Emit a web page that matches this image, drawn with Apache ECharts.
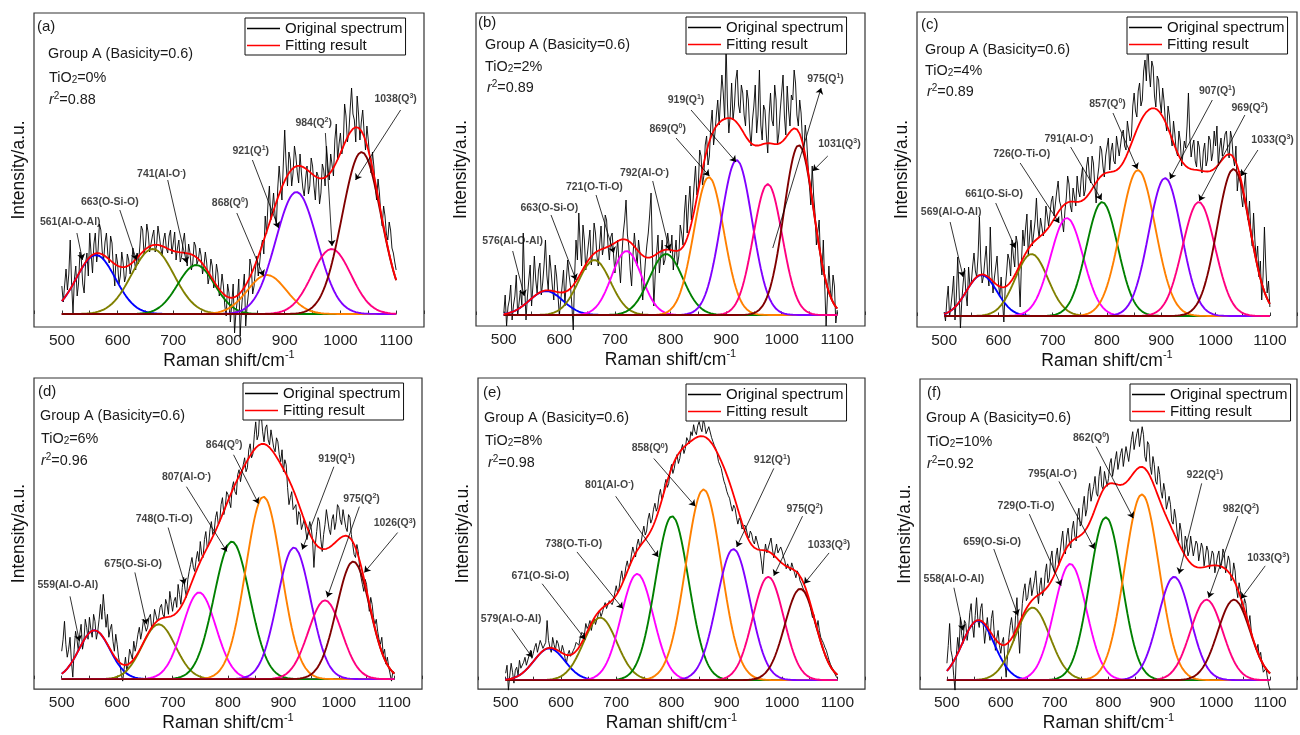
<!DOCTYPE html>
<html>
<head>
<meta charset="utf-8">
<script src="https://cdn.jsdelivr.net/npm/echarts@6/dist/echarts.min.js"></script>
<style>
  html, body { margin: 0; padding: 0; background: #ffffff; }
  #chart { width: 1300px; height: 735px; }
</style>
</head>
<body>
<div id="chart"></div>
<script>
// ---------------------------------------------------------------------------
// Raman spectra of Group A slags (basicity 0.6) at six TiO2 contents,
// with Gaussian deconvolution of the 500-1100 cm-1 region.
// ---------------------------------------------------------------------------

// Sampling positions of the measured spectra (cm-1)
const ramanShift = [
  500, 502.5, 505, 507.5, 510, 512.5, 515, 517.5, 520, 522.5, 525, 527.5, 530, 532.5, 535, 537.5, 540, 542.5, 545, 547.5,
  550, 552.5, 555, 557.5, 560, 562.5, 565, 567.5, 570, 572.5, 575, 577.5, 580, 582.5, 585, 587.5, 590, 592.5, 595, 597.5,
  600, 602.5, 605, 607.5, 610, 612.5, 615, 617.5, 620, 622.5, 625, 627.5, 630, 632.5, 635, 637.5, 640, 642.5, 645, 647.5,
  650, 652.5, 655, 657.5, 660, 662.5, 665, 667.5, 670, 672.5, 675, 677.5, 680, 682.5, 685, 687.5, 690, 692.5, 695, 697.5,
  700, 702.5, 705, 707.5, 710, 712.5, 715, 717.5, 720, 722.5, 725, 727.5, 730, 732.5, 735, 737.5, 740, 742.5, 745, 747.5,
  750, 752.5, 755, 757.5, 760, 762.5, 765, 767.5, 770, 772.5, 775, 777.5, 780, 782.5, 785, 787.5, 790, 792.5, 795, 797.5,
  800, 802.5, 805, 807.5, 810, 812.5, 815, 817.5, 820, 822.5, 825, 827.5, 830, 832.5, 835, 837.5, 840, 842.5, 845, 847.5,
  850, 852.5, 855, 857.5, 860, 862.5, 865, 867.5, 870, 872.5, 875, 877.5, 880, 882.5, 885, 887.5, 890, 892.5, 895, 897.5,
  900, 902.5, 905, 907.5, 910, 912.5, 915, 917.5, 920, 922.5, 925, 927.5, 930, 932.5, 935, 937.5, 940, 942.5, 945, 947.5,
  950, 952.5, 955, 957.5, 960, 962.5, 965, 967.5, 970, 972.5, 975, 977.5, 980, 982.5, 985, 987.5, 990, 992.5, 995, 997.5,
  1000, 1002.5, 1005, 1007.5, 1010, 1012.5, 1015, 1017.5, 1020, 1022.5, 1025, 1027.5, 1030, 1032.5, 1035, 1037.5, 1040, 1042.5, 1045, 1047.5,
  1050, 1052.5, 1055, 1057.5, 1060, 1062.5, 1065, 1067.5, 1070, 1072.5, 1075, 1077.5, 1080, 1082.5, 1085, 1087.5, 1090, 1092.5, 1095, 1097.5,
  1100
];

// Measured intensities (a.u., baseline = 0)
const spectrumA = [
  28, 12, 29, 45, 24, 40, 74, 30, 1, 35, 48, 18, 31, 62, 54, 30, 21, 50, 61, 38,
  81, 60, 41, 70, 81, 52, 64, 90, 84, 62, 54, 72, 81, 60, 51, 78, 71, 45, 28, 60,
  51, 30, 38, 62, 51, 32, 38, 60, 54, 40, 48, 66, 54, 44, 61, 50, 68, 88, 84, 60,
  68, 90, 81, 62, 61, 78, 84, 62, 68, 88, 78, 66, 58, 74, 81, 66, 61, 78, 84, 60,
  71, 82, 54, 66, 74, 52, 58, 72, 81, 62, 48, 70, 61, 44, 51, 72, 68, 50, 54, 66,
  58, 40, 48, 62, 51, 30, 38, 55, 48, 26, 31, 50, 41, 18, 24, 40, 28, 8, -2, 30,
  21, -8, 11, 30, -19, 2, 14, 35, -22, 5, 24, 40, -12, 8, 21, 55, 48, 20, 28, 45,
  58, 38, 51, 66, 74, 60, 98, 80, 111, 128, 94, 104, 121, 100, 88, 126, 148, 130, 114, 150,
  184, 150, 128, 162, 154, 128, 141, 168, 158, 142, 131, 160, 141, 126, 118, 135, 148, 120, 128, 156,
  148, 128, 114, 142, 138, 110, 121, 150, 144, 128, 168, 148, 134, 160, 158, 138, 174, 190, 154, 170,
  181, 160, 168, 210, 198, 172, 181, 205, 226, 200, 194, 172, 218, 200, 174, 192, 204, 182, 164, 188,
  174, 156, 141, 162, 148, 126, 114, 135, 121, 100, 88, 108, 98, 80, 74, 92, 84, 66, 61, 52,
  44
];
const spectrumB = [
  2, 20, -11, 8, 15, 30, -5, 10, 19, 40, -1, 12, 25, 10, 82, 30, -5, 18, 35, 50,
  9, 30, 59, 35, 22, 45, 52, 20, 32, 50, 75, 40, 25, 60, 45, 28, 15, 50, 39, 20,
  -1, 15, 29, 45, 9, 35, 55, 40, 29, 10, -15, 40, 75, 55, 102, 70, 49, 90, 75, 45,
  59, 72, 85, 50, 62, 92, 82, 60, 49, 70, 89, 60, 69, 100, 95, 70, 55, 78, 82, 60,
  42, 60, 75, 50, 32, 60, 82, 95, 115, 80, 69, 45, 29, 60, 82, 65, 49, 75, 62, 40,
  15, 35, 55, 70, 82, 100, 122, 60, 9, 40, 62, 80, 42, 58, 75, 50, 55, 68, 82, 70,
  62, 80, 45, 60, 75, 50, 59, 90, 82, 70, 102, 120, 82, 110, 129, 95, 109, 130, 149, 120,
  129, 165, 159, 130, 139, 170, 179, 150, 159, 190, 205, 170, 182, 200, 215, 190, 189, 240, 222, 195,
  272, 210, 182, 200, 232, 195, 209, 235, 245, 210, 202, 230, 222, 200, 189, 225, 215, 185, 169, 195,
  209, 230, 182, 200, 245, 190, 175, 210, 205, 180, 162, 200, 222, 195, 189, 230, 215, 170, 182, 205,
  222, 240, 199, 180, 229, 205, 189, 220, 215, 245, 232, 200, 189, 215, 202, 175, 165, 190, 175, 150,
  129, 110, 149, 120, 102, 70, 82, 95, 55, 40, 75, 30, -11, 20, 49, 25, 15, 40, 29, -8,
  5
];
const spectrumC = [
  4, -5, 16, 30, -1, 10, 23, 40, -4, 20, 59, 25, -12, 15, 33, 48, 23, 10, 49, 30,
  33, 50, 63, 45, 39, 60, 99, 55, 33, 40, 56, 70, 43, 30, 89, 45, 23, 38, 49, 60,
  33, 20, 39, 15, -6, 28, 43, 62, 56, 40, 76, 60, 49, 80, 73, 40, 9, 55, 86, 70,
  88, 102, 60, 80, 96, 70, 72, 95, 118, 90, 78, 98, 100, 80, 86, 110, 112, 90, 92, 115,
  120, 100, 98, 125, 135, 115, 110, 95, 84, 105, 118, 140, 132, 110, 104, 128, 126, 110, 140, 125,
  119, 138, 149, 120, 126, 150, 159, 140, 133, 160, 153, 130, 113, 138, 149, 170, 166, 150, 139, 160,
  160, 178, 146, 165, 173, 155, 152, 180, 178, 160, 158, 182, 186, 170, 166, 195, 196, 175, 180, 210,
  223, 205, 199, 225, 233, 210, 216, 245, 256, 235, 276, 245, 229, 255, 249, 220, 209, 240, 236, 215,
  203, 228, 215, 195, 185, 210, 200, 180, 170, 195, 182, 165, 160, 185, 175, 150, 150, 175, 168, 190,
  223, 180, 159, 170, 176, 155, 149, 175, 169, 150, 143, 165, 173, 150, 156, 180, 176, 155, 163, 185,
  170, 190, 150, 168, 178, 160, 160, 182, 185, 165, 158, 185, 178, 158, 150, 170, 125, 140, 145, 120,
  109, 128, 143, 110, 96, 115, 83, 70, 103, 75, 56, 70, 39, 55, 16, 40, 89, 50, 23, 35,
  9
];
const spectrumD = [
  28, 40, 58, 35, 22, 30, 42, 18, 2, 30, 48, 40, 28, 45, 55, 30, 38, 60, 52, 40,
  62, 50, 42, 65, 58, 40, 48, 60, 75, 60, 85, 68, 52, 65, 42, 50, 55, 38, 28, 45,
  35, 22, 15, 5, -2, 10, 22, 8, 15, 30, 28, 20, 38, 28, 35, 45, 52, 40, 48, 60,
  58, 48, 52, 62, 65, 50, 55, 70, 68, 58, 62, 72, 75, 65, 62, 80, 75, 65, 88, 78,
  68, 78, 82, 72, 95, 85, 75, 92, 102, 90, 82, 100, 108, 115, 122, 112, 108, 120, 128, 118,
  138, 125, 122, 140, 148, 132, 135, 150, 158, 145, 148, 162, 168, 155, 158, 175, 182, 165, 172, 188,
  185, 178, 172, 192, 198, 188, 185, 205, 210, 198, 200, 215, 222, 208, 212, 230, 236, 222, 226, 245,
  258, 240, 245, 272, 265, 248, 238, 252, 255, 240, 235, 250, 248, 232, 228, 242, 238, 225, 218, 230,
  208, 220, 215, 192, 175, 182, 188, 170, 168, 175, 155, 168, 165, 150, 148, 160, 158, 140, 142, 158,
  152, 140, 112, 135, 148, 162, 158, 140, 128, 145, 155, 170, 168, 150, 145, 160, 165, 150, 158, 175,
  172, 160, 155, 170, 168, 152, 148, 165, 162, 145, 135, 125, 122, 135, 128, 112, 102, 95, 88, 100,
  95, 80, 68, 82, 75, 62, 55, 60, 48, 40, 35, 42, 25, 30, 15, 22, 12, 5, -2, 8,
  5
];
const spectrumE = [
  7, 15, -10, 5, 17, 8, -3, 10, 13, 5, 20, 12, 10, 18, 23, 15, 17, 25, 30, 22,
  27, 33, 37, 28, 30, 40, 40, 32, 30, 38, 60, 40, 33, 28, 43, 36, 30, 40, 37, 30,
  27, 35, 30, 22, 17, 26, 30, 24, 23, 30, 33, 38, 40, 35, 43, 48, 50, 46, 57, 52,
  55, 60, 50, 57, 62, 56, 58, 66, 70, 64, 68, 74, 78, 72, 72, 80, 82, 76, 80, 88,
  95, 88, 92, 102, 110, 100, 104, 114, 120, 112, 116, 126, 134, 128, 124, 136, 142, 134, 138, 148,
  155, 146, 150, 162, 168, 158, 162, 172, 178, 170, 174, 186, 192, 182, 185, 196, 202, 194, 198, 210,
  217, 208, 213, 222, 227, 218, 223, 232, 237, 228, 233, 244, 243, 238, 250, 246, 257, 250, 247, 256,
  260, 254, 250, 262, 257, 248, 247, 255, 253, 244, 240, 236, 233, 228, 220, 222, 213, 206, 200, 196,
  190, 186, 183, 176, 170, 176, 173, 164, 157, 163, 160, 152, 150, 156, 153, 146, 143, 150, 147, 140,
  137, 145, 143, 134, 130, 120, 107, 125, 137, 128, 130, 138, 143, 132, 123, 130, 137, 128, 127, 134,
  130, 124, 120, 112, 117, 113, 110, 118, 117, 108, 103, 110, 107, 100, 97, 93, 90, 92, 87, 82,
  77, 70, 63, 66, 57, 52, 60, 50, 43, 40, 37, 33, 30, 25, 20, 16, 13, 10, 7, 4,
  2
];
const spectrumF = [
  17, 35, 57, 30, 23, 5, -10, 25, 43, 30, 63, 45, 37, 60, 57, 40, 50, 68, 77, 55,
  43, 65, 83, 60, 53, 72, 77, 55, 37, 50, 63, 48, 40, 62, 70, 50, 30, 42, 50, 35,
  27, 38, 43, 20, 3, 25, 43, 55, 63, 50, 40, 65, 83, 50, 27, 55, 77, 90, 97, 80,
  83, 95, 103, 85, 87, 100, 110, 90, 77, 95, 103, 85, 90, 108, 117, 98, 103, 122, 130, 112,
  108, 125, 133, 115, 113, 140, 150, 130, 127, 145, 153, 138, 133, 152, 160, 145, 140, 165, 173, 155,
  158, 175, 185, 165, 172, 190, 198, 180, 178, 195, 205, 188, 185, 205, 215, 195, 192, 210, 212, 195,
  203, 218, 223, 205, 203, 222, 230, 212, 210, 228, 233, 215, 217, 235, 237, 220, 220, 242, 250, 232,
  230, 248, 253, 235, 233, 255, 247, 225, 220, 240, 237, 215, 207, 225, 217, 200, 197, 215, 207, 190,
  183, 198, 190, 172, 170, 185, 177, 160, 157, 172, 163, 148, 140, 158, 150, 132, 127, 145, 140, 125,
  130, 145, 143, 125, 123, 140, 137, 120, 120, 138, 133, 115, 117, 135, 130, 112, 113, 130, 127, 108,
  110, 125, 130, 112, 117, 132, 127, 108, 110, 125, 120, 100, 103, 118, 110, 92, 83, 98, 90, 75,
  70, 82, 77, 62, 57, 65, 50, 42, 43, 35, 30, 36, 23, 28, 17, 8, 10, 12, 3, -5,
  -10
];

// Gaussian components: band centre (cm-1), peak height (a.u.), standard deviation (cm-1), assignment
const peakCentersA = [561, 663, 741, 868, 921, 984, 1038];
const peakHeightsA = [59, 65, 49, 39, 122, 65, 162];
const peakSigmasA  = [35, 38, 33, 35, 37, 35, 35];
const peakBondsA   = ['Al-O-Al', 'O-Si-O', 'Al-O{s|-}', 'Q{s|0}', 'Q{s|1}', 'Q{s|2}', 'Q{s|3}'];

const peakCentersB = [576, 663, 721, 792, 869, 919, 975, 1031];
const peakHeightsB = [24, 55, 64, 61, 138, 155, 131, 170];
const peakSigmasB  = [30, 29, 27, 30, 27, 28, 26, 27];
const peakBondsB   = ['Al-O-Al', 'O-Si-O', 'O-Ti-O', 'Al-O{s|-}', 'Q{s|0}', 'Q{s|1}', 'Q{s|1}', 'Q{s|3}'];

const peakCentersC = [569, 661, 726, 791, 857, 907, 969, 1033];
const peakHeightsC = [41, 62, 98, 114, 146, 138, 114, 147];
const peakSigmasC  = [28, 30, 30, 29, 32, 30, 30, 30];
const peakBondsC   = ['Al-O-Al', 'O-Si-O', 'O-Ti-O', 'Al-O{s|-}', 'Q{s|0}', 'Q{s|1}', 'Q{s|2}', 'Q{s|3}'];

const peakCentersD = [559, 675, 748, 807, 864, 919, 975, 1026];
const peakHeightsD = [49, 55, 87, 138, 183, 132, 79, 118];
const peakSigmasD  = [28, 30, 30, 32, 32, 30, 30, 30];
const peakBondsD   = ['Al-O-Al', 'O-Si-O', 'O-Ti-O', 'Al-O{s|-}', 'Q{s|0}', 'Q{s|1}', 'Q{s|2}', 'Q{s|3}'];

const peakCentersE = [579, 671, 738, 801, 858, 912, 975, 1033];
const peakHeightsE = [32, 63, 107, 165, 192, 132, 104, 92];
const peakSigmasE  = [28, 30, 29, 30, 32, 30, 28, 28];
const peakBondsE   = ['Al-O-Al', 'O-Si-O', 'O-Ti-O', 'Al-O{s|-}', 'Q{s|0}', 'Q{s|1}', 'Q{s|2}', 'Q{s|3}'];

const peakCentersF = [558, 659, 729, 795, 862, 922, 982, 1033];
const peakHeightsF = [60, 73, 117, 164, 187, 104, 81, 81];
const peakSigmasF  = [30, 32, 30, 30, 32, 30, 30, 30];
const peakBondsF   = ['Al-O-Al', 'O-Si-O', 'O-Ti-O', 'Al-O{s|-}', 'Q{s|0}', 'Q{s|1}', 'Q{s|2}', 'Q{s|3}'];

// Sample descriptors
const panelTags = ['(a)', '(b)', '(c)', '(d)', '(e)', '(f)'];
const tio2Levels = ['0%', '2%', '4%', '6%', '8%', '10%'];
const rSquared = ['0.88', '0.89', '0.89', '0.96', '0.98', '0.92'];
const xTickLabels = [500, 600, 700, 800, 900, 1000, 1100];

// ---------------------------------------------------------------------------
// Layout and styling
// ---------------------------------------------------------------------------
const FONT = "'Liberation Sans', Arial, Helvetica, sans-serif";
const palette8 = ['#0000FF', '#808000', '#FF00FF', '#008000', '#FF8000', '#8000FF', '#FF0080', '#800000'];
const palette7 = ['#0000FF', '#808000', '#008000', '#FF8000', '#8000FF', '#FF0080', '#800000'];

const panelLayout = [
  { left: 34,  top: 13,  width: 390, height: 314, yMin: -13, yMax: 301, legend: [245, 17],  tag: [37, 27],  group: [48, 54],  tio2: [49, 78],  r2: [49, 100] },
  { left: 476, top: 13,  width: 389, height: 313, yMin: -11, yMax: 302, legend: [686, 16],  tag: [478, 23], group: [485, 45], tio2: [485, 67], r2: [487, 88] },
  { left: 917, top: 12,  width: 389, height: 315, yMin: -11, yMax: 304, legend: [1127, 16], tag: [921, 25], group: [925, 50], tio2: [925, 71], r2: [927, 92] },
  { left: 34,  top: 378, width: 388, height: 312, yMin: -10, yMax: 302, legend: [243, 382], tag: [38, 392], group: [40, 416], tio2: [41, 439], r2: [41, 461] },
  { left: 478, top: 378, width: 387, height: 313, yMin: -9,  yMax: 304, legend: [686, 383], tag: [483, 393], group: [484, 418], tio2: [485, 441], r2: [488, 463] },
  { left: 920, top: 379, width: 386, height: 312, yMin: -9,  yMax: 303, legend: [1130, 383], tag: [927, 393], group: [926, 418], tio2: [927, 442], r2: [927, 464] }
];

// Callout placement: label anchor [shift, intensity] and arrow [x1, y1, x2, y2] in axis units
const calloutSpots = [
  [[515, 92], [586, 112], [679, 140], [802, 111], [839, 163], [952, 191], [1099, 215]],
  [[516, 74], [582, 107], [663, 128], [753, 142], [795, 186], [828, 215], [1079, 236], [1104, 171]],
  [[513, 104], [592, 122], [643, 162], [730, 177], [801, 212], [1003, 225], [1063, 208], [1105, 176]],
  [[511, 94], [629, 115], [685, 160], [725, 203], [793, 235], [996, 221], [1041, 181], [1101, 156]],
  [[510, 61], [563, 105], [623, 137], [688, 196], [761, 233], [982, 221], [1041, 172], [1085, 136]],
  [[513, 102], [584, 139], [647, 175], [696, 207], [768, 244], [979, 206], [1046, 172], [1097, 123]]
];
const calloutArrows = [
  [[527, 81, 537, 54], [604, 104, 634, 54], [690, 134, 724, 51], [814, 101, 862, 38], [842, 154, 889, 86], [973, 181, 985, 68], [1108, 204, 1027, 134]],
  [[516, 64, 537, 19], [585, 100, 630, 35], [666, 120, 698, 62], [768, 134, 798, 65], [810, 177, 870, 139], [837, 205, 918, 153], [984, 67, 1071, 227], [1083, 159, 1056, 144]],
  [[511, 94, 535, 39], [595, 113, 631, 68], [640, 153, 712, 93], [733, 169, 790, 116], [811, 203, 856, 147], [994, 216, 916, 137], [1054, 201, 970, 115], [1078, 166, 1047, 140]],
  [[515, 83, 532, 38], [632, 107, 653, 55], [692, 152, 722, 95], [725, 193, 798, 128], [810, 225, 855, 176], [991, 213, 934, 130], [1037, 173, 979, 82], [1106, 147, 1046, 107]],
  [[511, 52, 548, 23], [566, 97, 644, 41], [629, 129, 712, 72], [699, 185, 776, 124], [768, 223, 843, 175], [985, 213, 918, 134], [1037, 165, 985, 105], [1085, 128, 1040, 97]],
  [[513, 93, 530, 50], [587, 132, 632, 65], [653, 167, 712, 95], [708, 200, 774, 132], [777, 235, 846, 163], [973, 198, 931, 107], [1040, 165, 986, 83], [1091, 115, 1046, 82]]
];

const panels = [
  { spectrum: spectrumA, centers: peakCentersA, heights: peakHeightsA, sigmas: peakSigmasA, bonds: peakBondsA, colors: palette7 },
  { spectrum: spectrumB, centers: peakCentersB, heights: peakHeightsB, sigmas: peakSigmasB, bonds: peakBondsB, colors: palette8 },
  { spectrum: spectrumC, centers: peakCentersC, heights: peakHeightsC, sigmas: peakSigmasC, bonds: peakBondsC, colors: palette8 },
  { spectrum: spectrumD, centers: peakCentersD, heights: peakHeightsD, sigmas: peakSigmasD, bonds: peakBondsD, colors: palette8 },
  { spectrum: spectrumE, centers: peakCentersE, heights: peakHeightsE, sigmas: peakSigmasE, bonds: peakBondsE, colors: palette8 },
  { spectrum: spectrumF, centers: peakCentersF, heights: peakHeightsF, sigmas: peakSigmasF, bonds: peakBondsF, colors: palette8 }
];

// Gaussian band profile
const gaussian = (x, c, h, s) => h * Math.exp(-((x - c) * (x - c)) / (2 * s * s));

const grids = [], xAxes = [], yAxes = [], series = [], legends = [], graphics = [];

panels.forEach((p, i) => {
  const L = panelLayout[i];

  grids.push({
    left: L.left, top: L.top, width: L.width, height: L.height,
    show: true, borderColor: '#333333', borderWidth: 1.2, backgroundColor: 'transparent'
  });

  xAxes.push({
    type: 'value', gridIndex: i, min: 450, max: 1150, interval: 50,
    name: 'Raman shift/cm{sup|-1}', nameLocation: 'middle', nameGap: 21,
    nameTextStyle: {
      fontFamily: FONT, fontSize: 17.5, color: '#111', lineHeight: 22,
      rich: { sup: { fontFamily: FONT, fontSize: 11, color: '#111', verticalAlign: 'top', lineHeight: 11 } }
    },
    axisLine: { show: false },
    axisTick: { show: true, inside: true, length: 3.5, lineStyle: { color: '#333', width: 1 } },
    splitLine: { show: false },
    axisLabel: {
      formatter: v => (xTickLabels.indexOf(v) >= 0 ? String(v) : ''),
      fontFamily: FONT, fontSize: 15.5, color: '#222', margin: 6
    }
  });

  yAxes.push({
    type: 'value', gridIndex: i, min: L.yMin, max: L.yMax,
    name: 'Intensity/a.u.', nameLocation: 'middle', nameGap: 6, nameRotate: 90,
    nameTextStyle: { fontFamily: FONT, fontSize: 17.5, color: '#111' },
    axisLine: { show: false }, axisTick: { show: false }, axisLabel: { show: false }, splitLine: { show: false }
  });

  // measured spectrum
  series.push({
    name: 'Original spectrum', type: 'line', xAxisIndex: i, yAxisIndex: i,
    data: ramanShift.map((x, k) => [x, p.spectrum[k]]),
    showSymbol: false, symbol: 'none', clip: false, silent: true,
    lineStyle: { color: '#000', width: 0.9 }, itemStyle: { color: '#000' }, z: 2
  });

  // individual Gaussian bands
  p.centers.forEach((c, j) => {
    series.push({
      name: c + '(' + p.bonds[j] + ')', type: 'line', xAxisIndex: i, yAxisIndex: i,
      data: ramanShift.map(x => [x, gaussian(x, c, p.heights[j], p.sigmas[j])]),
      showSymbol: false, symbol: 'none', silent: true,
      lineStyle: { color: p.colors[j], width: 1.9 }, itemStyle: { color: p.colors[j] }, z: 3
    });
  });

  // cumulative fit
  series.push({
    name: 'Fitting result', type: 'line', xAxisIndex: i, yAxisIndex: i,
    data: ramanShift.map(x => [x, p.centers.reduce((acc, c, j) => acc + gaussian(x, c, p.heights[j], p.sigmas[j]), 0)]),
    showSymbol: false, symbol: 'none', silent: true,
    lineStyle: { color: '#FF0000', width: 1.8 }, itemStyle: { color: '#FF0000' }, z: 4
  });

  // band callouts with arrows
  series.push({
    name: 'callouts', type: 'scatter', xAxisIndex: i, yAxisIndex: i,
    symbolSize: 0, silent: true, z: 5,
    data: p.centers.map((c, j) => ({ value: calloutSpots[i][j], text: c + '(' + p.bonds[j] + ')' })),
    label: {
      show: true, position: 'inside', formatter: q => q.data.text,
      fontFamily: FONT, fontSize: 10.5, fontWeight: 'bold', color: '#111', lineHeight: 13,
      rich: { s: { fontFamily: FONT, fontSize: 7, fontWeight: 'bold', color: '#111', verticalAlign: 'top', lineHeight: 8 } }
    },
    markLine: {
      silent: true, symbol: ['none', 'arrow'], symbolSize: 6, animation: false,
      label: { show: false },
      lineStyle: { color: '#000', width: 0.8, type: 'solid' },
      emphasis: { disabled: true },
      data: calloutArrows[i].map(a => [{ coord: [a[0], a[1]] }, { coord: [a[2], a[3]] }])
    }
  });

  legends.push({
    left: L.legend[0], top: L.legend[1] + 1, orient: 'vertical',
    data: [
      { name: 'Original spectrum', icon: 'rect', itemStyle: { color: '#000' } },
      { name: 'Fitting result', icon: 'rect', itemStyle: { color: '#FF0000' } }
    ],
    selectedMode: false, itemWidth: 33, itemHeight: 1.4, itemGap: 2,
    padding: [3, 3, 2, 2], borderColor: '#111', borderWidth: 1, backgroundColor: '#fff',
    textStyle: { fontFamily: FONT, fontSize: 15, color: '#111' }, z: 10
  });

  const txt = (pos, text, size, rich) => ({
    type: 'text', x: pos[0], y: pos[1], z: 20, silent: true,
    style: { text, fontFamily: FONT, fontSize: size, fill: '#1a1a1a', verticalAlign: 'middle', align: 'left', rich }
  });
  graphics.push(txt(L.tag, panelTags[i], 15));
  graphics.push(txt(L.group, 'Group A (Basicity=0.6)', 14.4));
  graphics.push(txt(L.tio2, 'TiO{sub|2}=' + tio2Levels[i], 14.4, {
    sub: { fontFamily: FONT, fontSize: 10, fill: '#1a1a1a', verticalAlign: 'bottom', lineHeight: 10 }
  }));
  graphics.push(txt(L.r2, '{it|r}{sup|2}=' + rSquared[i], 14.4, {
    it: { fontFamily: FONT, fontSize: 14.4, fontStyle: 'italic', fill: '#1a1a1a', lineHeight: 18 },
    sup: { fontFamily: FONT, fontSize: 10, fill: '#1a1a1a', verticalAlign: 'top', lineHeight: 10 }
  }));
});

const chart = echarts.init(document.getElementById('chart'), null, { renderer: 'canvas', width: 1300, height: 735 });
chart.setOption({
  backgroundColor: '#ffffff',
  animation: false,
  grid: grids,
  xAxis: xAxes,
  yAxis: yAxes,
  legend: legends,
  series: series,
  graphic: { elements: graphics }
});
</script>
</body>
</html>
